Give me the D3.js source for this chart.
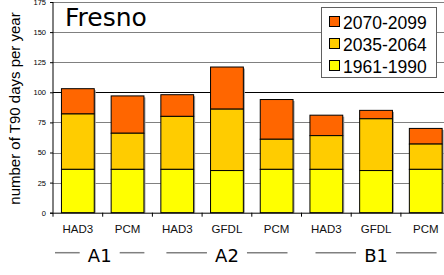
<!DOCTYPE html>
<html>
<head>
<meta charset="utf-8">
<script src="https://cdn.jsdelivr.net/npm/d3@7"></script>
<style>
  body { margin: 0; background: #fff; }
  svg { display: block; }
</style>
</head>
<body>
<svg width="444" height="275"></svg>
<script>
// models along the x axis, grouped by scenario
const models = ['HAD3', 'PCM', 'HAD3', 'GFDL', 'PCM', 'HAD3', 'GFDL', 'PCM']
const scenarios = ['A1', 'A1', 'A2', 'A2', 'A2', 'B1', 'B1', 'B1']
const groups = ['A1', 'A2', 'B1']

// cumulative heights (days per year)
const base1961 = [36, 36, 36, 35, 36, 36, 35, 36]
const mid2035 = [82, 66, 80, 86, 61, 64, 78, 57]
const late2070 = [103, 97, 98, 121, 94, 81, 85, 70]

const yTicks = [0, 25, 50, 75, 100, 125, 150, 175]
const legendLabels = ['2070-2099', '2035-2064', '1961-1990']
const colors = ['#ff6600', '#ffcc00', '#ffff00']

const svg = d3.select('svg')

const plotL = 53, plotR = 450.6, plotT = 2, plotB = 212.7

const x = d3.scaleBand()
  .domain(d3.range(models.length))
  .range([plotL, plotR])
  .paddingInner(0.34)
  .paddingOuter(0.17)

const y = d3.scaleLinear().domain([0, 175]).range([plotB, plotT])

// gridlines
svg.append('g')
  .selectAll('line')
  .data(yTicks.filter(d => d > 0))
  .enter()
  .append('line')
  .attr('x1', plotL).attr('x2', 444)
  .attr('y1', d => Math.round(y(d)) + 0.5)
  .attr('y2', d => Math.round(y(d)) + 0.5)
  .style('stroke', d => d === 100 ? '#000' : '#808080')
  .style('stroke-width', 1)

// stacked segments
const stacks = [
  { lo: mid2035, hi: late2070, c: colors[0] },
  { lo: base1961, hi: mid2035, c: colors[1] },
  { lo: base1961.map(() => 0), hi: base1961, c: colors[2] }
]

const bars = svg.append('g')
// soft shadow behind each bar
bars.selectAll('rect.shadow')
  .data(late2070)
  .enter()
  .append('rect')
  .attr('class', 'shadow')
  .attr('x', (d, i) => x(i) + 1.5)
  .attr('y', d => y(d) + 1.5)
  .attr('width', x.bandwidth())
  .attr('height', d => plotB - y(d) - 1.5)
  .style('fill', '#a0a0a0')

stacks.forEach(s => {
  bars.selectAll(null)
    .data(s.hi)
    .enter()
    .append('rect')
    .attr('x', (d, i) => x(i))
    .attr('y', d => y(d))
    .attr('width', x.bandwidth())
    .attr('height', (d, i) => y(s.lo[i]) - y(d))
    .style('fill', s.c)
    .style('stroke', '#000')
    .style('stroke-width', 1)
})

// y axis
const yAxis = svg.append('g')
  .attr('transform', `translate(${plotL},0)`)
  .call(d3.axisLeft(y).tickValues(yTicks).tickSize(3).tickPadding(4))
yAxis.select('.domain').attr('d', `M0,${plotT}V${plotB}`).style('stroke', '#000')
yAxis.selectAll('text')
  .style('font-family', '"Liberation Sans", Arial, sans-serif')
  .style('font-size', '7.5px')
  .style('fill', '#000')

// x axis baseline with category ticks
const xAxis = svg.append('g')
svg.append('line')
  .attr('x1', plotL - 3).attr('x2', 444)
  .attr('y1', plotB + 0.5).attr('y2', plotB + 0.5)
  .style('stroke', '#000')
xAxis.selectAll('line')
  .data(d3.range(models.length + 1))
  .enter()
  .append('line')
  .attr('x1', i => plotL + i * x.step())
  .attr('x2', i => plotL + i * x.step())
  .attr('y1', plotB)
  .attr('y2', plotB + 4)
  .style('stroke', '#000')

xAxis.selectAll('text')
  .data(models)
  .enter()
  .append('text')
  .attr('x', (d, i) => x(i) + x.bandwidth() / 2)
  .attr('y', 233)
  .attr('text-anchor', 'middle')
  .style('font-family', '"Liberation Sans", Arial, sans-serif')
  .style('font-size', '11.5px')
  .style('fill', '#111')
  .text(d => d)

// scenario group labels with side rules
groups.forEach(g => {
  const idx = d3.range(models.length).filter(i => scenarios[i] === g)
  const x0 = plotL + d3.min(idx) * x.step()
  const x1 = plotL + (d3.max(idx) + 1) * x.step()
  const cx = (x0 + x1) / 2 - (idx.length === 2 ? 3 : 0)
  const half = (x1 - x0) / 2
  const outer = idx.length === 2 ? half - 5 : half - 14
  const inner = 20
  svg.append('text')
    .attr('x', cx)
    .attr('y', 262)
    .attr('text-anchor', 'middle')
    .style('font-family', '"DejaVu Sans", Verdana, sans-serif')
    .style('font-size', '18px')
    .style('fill', '#000')
    .text(g)
  ;[[cx - outer, cx - inner], [cx + inner, cx + outer]].forEach(seg => {
    svg.append('line')
      .attr('x1', seg[0]).attr('x2', seg[1])
      .attr('y1', 252.7).attr('y2', 252.7)
      .style('stroke', '#808080')
      .style('stroke-width', 1.5)
  })
})

// y axis title
svg.append('text')
  .attr('transform', 'translate(20,108.5) rotate(-90)')
  .attr('text-anchor', 'middle')
  .style('font-family', '"Liberation Sans", Arial, sans-serif')
  .style('font-size', '15px')
  .style('fill', '#000')
  .text('number of T90 days per year')

// chart title
svg.append('text')
  .attr('x', 65)
  .attr('y', 26)
  .style('font-family', '"DejaVu Sans", Verdana, sans-serif')
  .style('font-size', '25px')
  .style('fill', '#000')
  .text('Fresno')

// legend
const legend = svg.append('g')
legend.append('rect')
  .attr('x', 321.5).attr('y', 7.5)
  .attr('width', 115).attr('height', 70)
  .style('fill', '#fff')
  .style('stroke', '#606060')
legendLabels.forEach((t, i) => {
  const by = 28.5 + i * 22
  legend.append('rect')
    .attr('x', 329.5).attr('y', by - 12)
    .attr('width', 10).attr('height', 10)
    .style('fill', colors[i])
    .style('stroke', '#000')
  legend.append('text')
    .attr('x', 343)
    .attr('y', by)
    .style('font-family', '"Liberation Sans", Arial, sans-serif')
    .style('font-size', '17.5px')
    .style('fill', '#000')
    .text(t)
})
</script>
</body>
</html>
